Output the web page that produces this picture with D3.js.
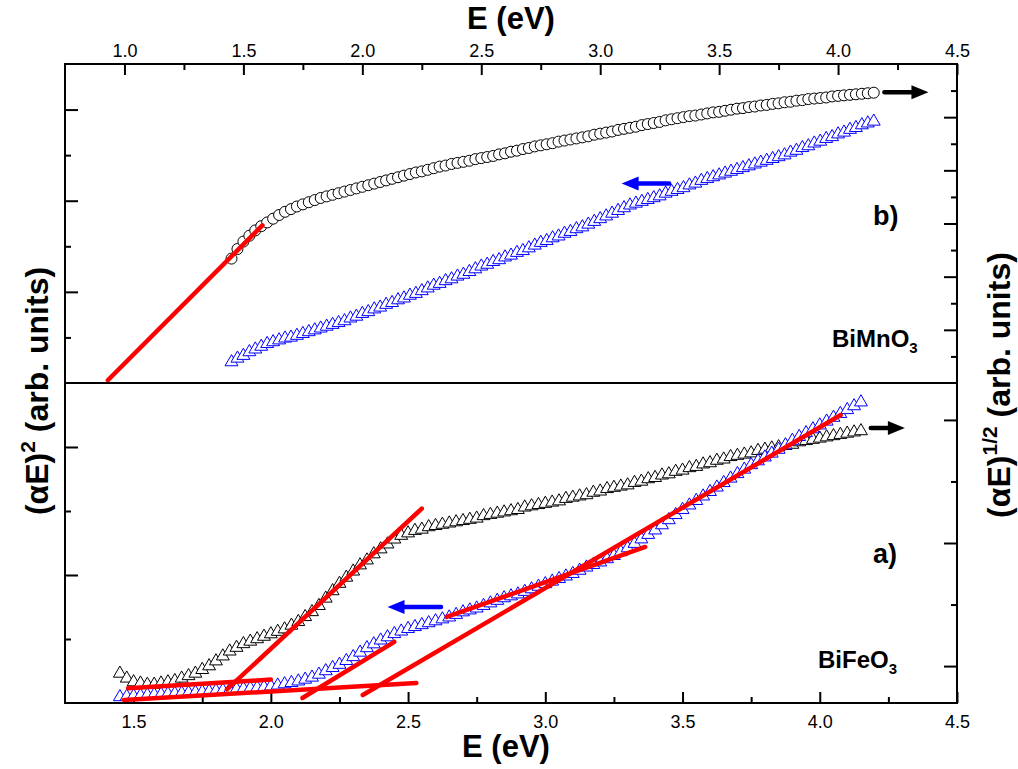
<!DOCTYPE html>
<html>
<head>
<meta charset="utf-8">
<title>BiMnO3 / BiFeO3 absorption edges</title>
<script src="https://cdn.jsdelivr.net/npm/d3@7"></script>
<style>
  body { margin: 0; background: #fff; }
  text { font-family: "Liberation Sans", Arial, sans-serif; }
</style>
</head>
<body>
<svg id="chart" width="1018" height="769"></svg>
<script>
// photon energy grid (eV), shared by both panels
var energy = [1.45,1.475,1.5,1.525,1.55,1.575,1.6,1.625,1.65,1.675,
              1.7,1.725,1.75,1.775,1.8,1.825,1.85,1.875,1.9,1.925,
              1.95,1.975,2,2.025,2.05,2.075,2.1,2.125,2.15,2.175,
              2.2,2.225,2.25,2.275,2.3,2.325,2.35,2.375,2.4,2.425,
              2.45,2.475,2.5,2.525,2.55,2.575,2.6,2.625,2.65,2.675,
              2.7,2.725,2.75,2.775,2.8,2.825,2.85,2.875,2.9,2.925,
              2.95,2.975,3,3.025,3.05,3.075,3.1,3.125,3.15,3.175,
              3.2,3.225,3.25,3.275,3.3,3.325,3.35,3.375,3.4,3.425,
              3.45,3.475,3.5,3.525,3.55,3.575,3.6,3.625,3.65,3.675,
              3.7,3.725,3.75,3.775,3.8,3.825,3.85,3.875,3.9,3.925,
              3.95,3.975,4,4.025,4.05,4.075,4.1,4.125,4.15];

// b) BiMnO3 : (aE)^1/2 (circles, right axis) and (aE)^2 (triangles, left axis)
var bmoRoot = [2.34,2.52,2.66,2.77,2.87,2.95,3.02,3.09,3.16,3.22,
               3.27,3.32,3.36,3.40,3.44,3.48,3.51,3.54,3.57,3.60,
               3.63,3.66,3.69,3.72,3.75,3.78,3.81,3.84,3.87,3.90,
               3.93,3.96,3.98,4.01,4.04,4.07,4.09,4.12,4.14,4.16,
               4.18,4.21,4.23,4.25,4.27,4.30,4.32,4.35,4.37,4.40,
               4.42,4.45,4.47,4.49,4.51,4.54,4.56,4.58,4.60,4.62,
               4.64,4.67,4.69,4.71,4.73,4.76,4.78,4.80,4.82,4.85,
               4.87,4.89,4.91,4.94,4.96,4.98,5.00,5.02,5.03,5.05,
               5.07,5.09,5.10,5.12,5.14,5.16,5.17,5.19,5.20,5.22,
               5.23,5.25,5.26,5.28,5.29,5.31,5.32,5.34,5.35,5.36,
               5.37,5.39,5.40,5.41,5.42,5.43,5.44,5.45,5.46];
var bmoSquare = [0.23,0.27,0.30,0.34,0.37,0.40,0.43,0.45,0.47,0.49,
                 0.50,0.52,0.54,0.56,0.58,0.60,0.62,0.64,0.66,0.68,
                 0.71,0.73,0.76,0.78,0.81,0.83,0.86,0.88,0.91,0.93,
                 0.96,0.98,1.01,1.04,1.07,1.09,1.12,1.14,1.17,1.19,
                 1.22,1.25,1.28,1.30,1.33,1.35,1.38,1.40,1.43,1.45,
                 1.48,1.51,1.54,1.56,1.59,1.61,1.64,1.66,1.69,1.71,
                 1.74,1.77,1.80,1.83,1.86,1.89,1.92,1.95,1.97,1.99,
                 2.01,2.03,2.05,2.08,2.10,2.12,2.14,2.17,2.19,2.22,
                 2.24,2.26,2.28,2.30,2.32,2.34,2.36,2.38,2.40,2.42,
                 2.44,2.46,2.48,2.50,2.53,2.55,2.58,2.60,2.63,2.65,
                 2.68,2.70,2.73,2.75,2.78,2.80,2.83,2.85,2.87];

// a) BiFeO3 : (aE)^1/2 (black, right axis) and (aE)^2 (blue, left axis)
var bfoRoot = [-0.06,-0.10,-0.13,-0.14,-0.15,-0.15,-0.14,-0.13,-0.12,-0.10,
               -0.08,-0.06,-0.03,0.00,0.04,0.08,0.12,0.15,0.18,0.20,
               0.22,0.24,0.26,0.28,0.30,0.33,0.36,0.40,0.44,0.49,
               0.55,0.61,0.67,0.72,0.77,0.82,0.86,0.91,0.95,0.99,
               1.03,1.06,1.08,1.10,1.11,1.13,1.14,1.15,1.16,1.17,
               1.18,1.19,1.20,1.22,1.23,1.24,1.25,1.26,1.27,1.29,
               1.30,1.31,1.32,1.33,1.34,1.36,1.37,1.38,1.39,1.41,
               1.42,1.44,1.45,1.46,1.47,1.49,1.50,1.52,1.53,1.55,
               1.56,1.58,1.59,1.61,1.62,1.64,1.65,1.67,1.68,1.70,
               1.71,1.72,1.73,1.75,1.76,1.77,1.78,1.79,1.80,1.82,
               1.83,1.84,1.85,1.86,1.87,1.88,1.89,1.90,1.91];
var bfoSquare = [0.047,0.051,0.055,0.058,0.062,0.065,0.068,0.071,0.074,0.077,
                 0.080,0.083,0.087,0.091,0.095,0.099,0.103,0.107,0.111,0.115,
                 0.119,0.124,0.130,0.138,0.148,0.158,0.170,0.184,0.200,0.223,
                 0.250,0.275,0.300,0.330,0.360,0.395,0.430,0.460,0.490,0.515,
                 0.540,0.560,0.580,0.595,0.610,0.625,0.640,0.655,0.670,0.690,
                 0.710,0.725,0.740,0.760,0.780,0.800,0.820,0.835,0.850,0.870,
                 0.890,0.910,0.930,0.950,0.970,0.990,1.010,1.035,1.060,1.080,
                 1.100,1.125,1.150,1.180,1.210,1.245,1.280,1.315,1.350,1.390,
                 1.430,1.470,1.510,1.545,1.580,1.615,1.650,1.685,1.720,1.755,
                 1.790,1.825,1.860,1.890,1.920,1.950,1.980,2.015,2.050,2.080,
                 2.110,2.140,2.170,2.200,2.230,2.260,2.290,2.320,2.350];

// linear fits [E1, y1, E2, y2]
var fitBSquare = [[0.93, 0.03, 1.58, 1.73]];
var fitARoot = [[1.84, -0.19, 2.55, 1.28], [1.48, -0.18, 2.0, -0.11]];
var fitASquare = [[1.465, 0.023, 2.53, 0.156], [2.115, 0.039, 2.45, 0.477],
                  [2.335, 0.0625, 4.076, 2.25], [2.641, 0.672, 3.364, 1.219]];

// arrows [E from, E to, y]
var arrowBRoot = [4.195, 4.38, 5.47];
var arrowBSquare = [3.29, 3.09, 2.19];
var arrowARoot = [4.186, 4.31, 1.934];
var arrowASquare = [2.62, 2.425, 0.75];

var xTopMajor = [1.0,1.5,2.0,2.5,3.0,3.5,4.0,4.5];
var xTopMinor = [1.25,1.75,2.25,2.75,3.25,3.75,4.25];
var xBotMajor = [1.5,2.0,2.5,3.0,3.5,4.0,4.5];
var xBotMinor = [1.75,2.25,2.75,3.25,3.75,4.25];

var FONT = '"Liberation Sans", Arial, sans-serif';
var L = 65, R = 957, T = 64, MID = 383, B = 703;

var svg = d3.select("#chart");

var xTop = d3.scaleLinear().domain([0.75, 4.5]).range([L, R]);
var xBot = d3.scaleLinear().domain([1.25, 4.5]).range([L, R]);
var yTopL = d3.scaleLinear().domain([0, 3.5]).range([MID, T]);
var yTopR = d3.scaleLinear().domain([0, 6]).range([MID, T]);
var yBotL = d3.scaleLinear().domain([0, 2.5]).range([B, MID]);
var yBotR = d3.scaleLinear().domain([-0.3, 2.3]).range([B, MID]);

function drawAxis(axis, tx, ty) {
  var g = svg.append("g")
    .attr("transform", "translate(" + tx + "," + ty + ")")
    .call(axis);
  g.select(".domain").remove();
  g.selectAll("line").attr("stroke", "#000").attr("stroke-width", 2);
  g.selectAll("text").attr("fill", "#000").attr("font-size", 18).attr("font-family", FONT);
  return g;
}

var fmt = d3.format(".1f");
drawAxis(d3.axisTop(xTop).tickValues(xTopMajor).tickSizeInner(-11).tickSizeOuter(0).tickPadding(7).tickFormat(fmt), 0, T);
drawAxis(d3.axisTop(xTop).tickValues(xTopMinor).tickSizeInner(-6).tickSizeOuter(0).tickFormat(""), 0, T);
drawAxis(d3.axisBottom(xBot).tickValues(xBotMajor).tickSizeInner(-11).tickSizeOuter(0).tickPadding(12).tickFormat(fmt), 0, B);
drawAxis(d3.axisBottom(xBot).tickValues(xBotMinor).tickSizeInner(-6).tickSizeOuter(0).tickFormat(""), 0, B);

drawAxis(d3.axisLeft(yTopL).tickValues([1, 2, 3]).tickSize(-13).tickFormat(""), L, 0);
drawAxis(d3.axisLeft(yTopL).tickValues([0.5, 1.5, 2.5]).tickSize(-6).tickFormat(""), L, 0);
drawAxis(d3.axisLeft(yBotL).tickValues([1, 2]).tickSize(-13).tickFormat(""), L, 0);
drawAxis(d3.axisLeft(yBotL).tickValues([0.5, 1.5]).tickSize(-6).tickFormat(""), L, 0);

drawAxis(d3.axisRight(yTopR).tickValues([1, 2, 3, 4, 5]).tickSize(-13).tickFormat(""), R, 0);
drawAxis(d3.axisRight(yTopR).tickValues([0.5, 1.5, 2.5, 3.5, 4.5, 5.5]).tickSize(-6).tickFormat(""), R, 0);
drawAxis(d3.axisRight(yBotR).tickValues([0, 1, 2]).tickSize(-13).tickFormat(""), R, 0);
drawAxis(d3.axisRight(yBotR).tickValues([0.5, 1.5]).tickSize(-6).tickFormat(""), R, 0);

// markers
var tri = d3.symbol().type(d3.symbolTriangle).size(72);

function triangles(xs, ys, vals, color) {
  svg.append("g").selectAll("path")
    .data(energy.map(function(e, i) { return [e, vals[i]]; }))
    .join("path")
    .attr("d", tri)
    .attr("transform", function(d) { return "translate(" + xs(d[0]) + "," + ys(d[1]) + ")"; })
    .attr("fill", "#fff")
    .attr("stroke", color)
    .attr("stroke-width", 1);
}

// panel b
svg.append("g").selectAll("circle")
  .data(energy.map(function(e, i) { return [e, bmoRoot[i]]; }))
  .join("circle")
  .attr("cx", function(d) { return xTop(d[0]); })
  .attr("cy", function(d) { return yTopR(d[1]); })
  .attr("r", 5.5)
  .attr("fill", "#fff")
  .attr("stroke", "#000")
  .attr("stroke-width", 1);
triangles(xTop, yTopL, bmoSquare, "#0000ff");

// panel a
triangles(xBot, yBotR, bfoRoot, "#000");
triangles(xBot, yBotL, bfoSquare, "#0000ff");

// fits
function fits(list, xs, ys) {
  svg.append("g").selectAll("line")
    .data(list)
    .join("line")
    .attr("x1", function(d) { return xs(d[0]); })
    .attr("y1", function(d) { return ys(d[1]); })
    .attr("x2", function(d) { return xs(d[2]); })
    .attr("y2", function(d) { return ys(d[3]); })
    .attr("stroke", "#ff0000")
    .attr("stroke-width", 4.5)
    .attr("stroke-linecap", "round");
}
fits(fitBSquare, xTop, yTopL);
fits(fitARoot, xBot, yBotR);
fits(fitASquare, xBot, yBotL);

// arrows
function arrow(a, xs, ys, color) {
  var x1 = xs(a[0]), x2 = xs(a[1]), y = ys(a[2]);
  var dir = x2 > x1 ? 1 : -1;
  var head = 17;
  svg.append("line")
    .attr("x1", x1).attr("y1", y)
    .attr("x2", x2 - dir * head * 0.6).attr("y2", y)
    .attr("stroke", color).attr("stroke-width", 4.5).attr("stroke-linecap", "round");
  svg.append("path")
    .attr("d", "M" + x2 + "," + y + "L" + (x2 - dir * head) + "," + (y - 7) + "L" + (x2 - dir * head) + "," + (y + 7) + "Z")
    .attr("fill", color);
}
arrow(arrowBRoot, xTop, yTopR, "#000");
arrow(arrowBSquare, xTop, yTopL, "#0000ff");
arrow(arrowARoot, xBot, yBotR, "#000");
arrow(arrowASquare, xBot, yBotL, "#0000ff");

// frames
svg.append("rect").attr("x", L).attr("y", T).attr("width", R - L).attr("height", MID - T)
  .attr("fill", "none").attr("stroke", "#000").attr("stroke-width", 2);
svg.append("rect").attr("x", L).attr("y", MID).attr("width", R - L).attr("height", B - MID)
  .attr("fill", "none").attr("stroke", "#000").attr("stroke-width", 2);

// panel labels
function bold(x, y, size) {
  return svg.append("text").attr("x", x).attr("y", y)
    .attr("font-size", size).attr("font-weight", "bold").attr("fill", "#000");
}
bold(873, 225, 27).text("b)");
bold(873, 563, 27).text("a)");
var t1 = bold(832, 347, 24);
t1.append("tspan").text("BiMnO");
t1.append("tspan").attr("dy", 6).attr("font-size", 15).text("3");
var t2 = bold(818, 668, 24);
t2.append("tspan").text("BiFeO");
t2.append("tspan").attr("dy", 6).attr("font-size", 15).text("3");

// axis titles
bold(511, 29, 31).attr("text-anchor", "middle").text("E (eV)");
bold(506, 757, 31).attr("text-anchor", "middle").text("E (eV)");

var yl = svg.append("text").attr("transform", "translate(48,391) rotate(-90)")
  .attr("text-anchor", "middle").attr("font-size", 32).attr("font-weight", "bold");
yl.append("tspan").text("(\u03b1E)");
yl.append("tspan").attr("dy", -13).attr("font-size", 21).text("2");
yl.append("tspan").attr("dy", 13).text(" (arb. units)");

var yr = svg.append("text").attr("transform", "translate(1010,385) rotate(-90)")
  .attr("text-anchor", "middle").attr("font-size", 32).attr("font-weight", "bold");
yr.append("tspan").text("(\u03b1E)");
yr.append("tspan").attr("dy", -13).attr("font-size", 21).text("1/2");
yr.append("tspan").attr("dy", 13).text(" (arb. units)");
</script>
</body>
</html>
